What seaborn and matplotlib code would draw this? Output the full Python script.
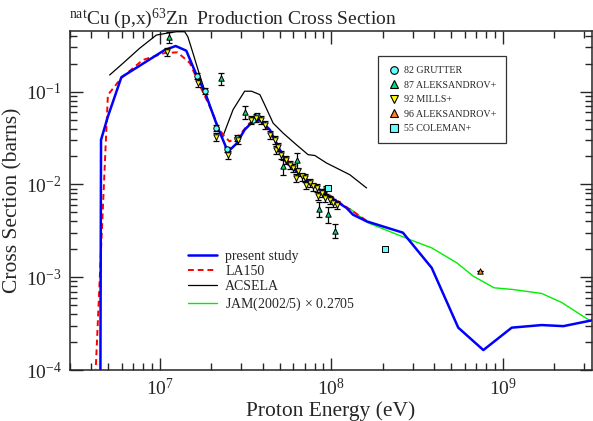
import numpy as np
import pandas as pd
import matplotlib
matplotlib.use("Agg")
import matplotlib.pyplot as plt
import seaborn as sns
from matplotlib.lines import Line2D

# ---- curves (energy in eV, cross section in barns) ----
present_E = [4.50e6, 4.55e6, 4.99e6, 5.98e6, 1.07e7, 1.24e7, 1.43e7, 1.64e7, 1.83e7,
             2.19e7, 2.50e7, 2.80e7, 3.13e7, 3.49e7, 3.84e7, 4.39e7, 5.02e7, 5.49e7,
             6.28e7, 7.19e7, 8.59e7, 1.075e8, 1.23e8, 1.34e8, 1.61e8, 2.62e8, 3.86e8,
             5.51e8, 7.72e8, 1.13e9, 1.69e9, 2.26e9, 3.37e9]
present_sig = [1e-5, 0.0302, 0.0539, 0.1429, 0.281, 0.310, 0.276, 0.151, 0.100,
               0.0404, 0.0225, 0.0274, 0.0388, 0.0476, 0.0496, 0.0388, 0.0236, 0.0171,
               0.0138, 0.01124, 0.00877, 0.00657, 0.00557, 0.00472, 0.0040, 0.00302,
               0.00126, 0.000286, 0.000164, 0.000286, 0.000305, 0.000297, 0.000345]

la150_E = [4.2e6, 4.99e6, 5.98e6, 7.96e6, 1.07e7, 1.27e7, 1.50e7, 1.71e7, 2.00e7,
           2.19e7, 2.34e7, 2.56e7, 2.93e7, 3.35e7, 3.94e7, 4.50e7, 5.22e7, 6.31e7,
           7.51e7, 9.19e7, 1.124e8, 1.375e8, 1.61e8]
la150_sig = [7.0e-5, 0.0921, 0.1404, 0.219, 0.2607, 0.265, 0.2035, 0.118, 0.0636,
             0.042, 0.0342, 0.029, 0.0342, 0.046, 0.0484, 0.0342, 0.0209, 0.0137,
             0.0107, 0.00835, 0.00636, 0.00496, 0.00405]

acsela_E = [5.11e6, 6.11e6, 7.64e6, 9.57e6, 1.094e7, 1.252e7, 1.40e7, 1.46e7, 1.565e7,
            1.71e7, 1.91e7, 2.14e7, 2.32e7, 2.68e7, 3.13e7, 3.43e7, 3.84e7, 4.10e7,
            4.59e7, 5.25e7, 6.28e7, 7.34e7, 8.03e7, 9.40e7, 1.124e8, 1.286e8, 1.61e8]
acsela_sig = [0.151, 0.202, 0.293, 0.407, 0.425, 0.442, 0.442, 0.390, 0.259,
              0.151, 0.0814, 0.0457, 0.0318, 0.064, 0.101, 0.101, 0.0928, 0.0719,
              0.0457, 0.0357, 0.0267, 0.0209, 0.0205, 0.017, 0.0144, 0.0127, 0.00915]

jam_E = [1.286e8, 1.644e8, 2.88e8, 3.86e8, 5.40e8, 6.75e8, 8.91e8, 1.15e9, 1.69e9,
         2.21e9, 3.37e9]
jam_sig = [0.00548, 0.00385, 0.00254, 0.00207, 0.00143, 0.001025, 0.000769, 0.000737,
           0.000668, 0.000534, 0.000323]

# ---- experimental data ----
grutter_E = [1.66e7, 1.85e7, 2.14e7, 2.48e7, 2.83e7, 3.50e7, 3.68e7]
grutter_sig = [0.1486, 0.101, 0.0407, 0.0238, 0.0318, 0.050, 0.0548]

alek87_E = [1.129e7, 2.29e7, 3.16e7, 5.25e7, 6.28e7, 8.47e7, 9.53e7, 1.051e8]
alek87_sig = [0.385, 0.139, 0.0605, 0.0156, 0.0182, 0.0054, 0.00478, 0.00318]
alek87_err = [0.053, 0.021, 0.010, 0.0029, 0.0035, 0.0010, 0.0009, 0.00055]

mills_E = [1.10e7, 1.67e7, 2.14e7, 2.50e7, 2.86e7, 3.43e7, 3.67e7, 3.92e7, 4.10e7,
           4.39e7, 4.69e7, 4.75e7, 4.90e7, 5.13e7, 5.49e7, 5.74e7, 6.00e7, 6.22e7,
           6.42e7, 6.72e7, 7.02e7, 7.11e7, 7.51e7, 7.85e7, 8.22e7, 8.36e7, 8.79e7,
           9.19e7, 9.31e7, 9.83e7, 1.027e8, 1.075e8]
mills_sig = [0.267, 0.124, 0.0324, 0.0208, 0.0303, 0.0497, 0.0518, 0.0497, 0.0438,
             0.0342, 0.0303, 0.0236, 0.0256, 0.0209, 0.01845, 0.0163, 0.0150, 0.0118,
             0.0138, 0.0122, 0.0117, 0.00993, 0.01035, 0.00952, 0.00915, 0.00756, 0.00808,
             0.00714, 0.00877, 0.00685, 0.0063, 0.00605]

alek96_E = [7.38e8]
alek96_sig = [0.00116]

coleman_E = [9.6e7, 2.06e8]
coleman_sig = [0.00915, 0.00203]

# ---- style ----
sns.set_style("ticks")
plt.rcParams['font.family'] = ['Liberation Serif', 'DejaVu Serif']
plt.rcParams['mathtext.fontset'] = 'custom'
plt.rcParams['mathtext.rm'] = 'Liberation Serif'
plt.rcParams['mathtext.it'] = 'Liberation Serif:italic'
plt.rcParams['axes.linewidth'] = 1.1

fig = plt.figure(figsize=(5.93, 4.21), dpi=100)
ax = fig.add_axes([70 / 593, 51 / 421, 522 / 593, 339 / 421])

# theory curves
sns.lineplot(x=present_E, y=present_sig, ax=ax, color='#0000ff', lw=1.8,
             sort=False, estimator=None, label='present study', zorder=5)
sns.lineplot(x=la150_E, y=la150_sig, ax=ax, color='#ff0000', lw=1.4,
             sort=False, estimator=None, label='LA150', zorder=4)
ax.lines[-1].set_dashes([3, 2])
sns.lineplot(x=acsela_E, y=acsela_sig, ax=ax, color='black', lw=0.9,
             sort=False, estimator=None, label='ACSELA', zorder=3)
sns.lineplot(x=jam_E, y=jam_sig, ax=ax, color='#00ee00', lw=1.0,
             sort=False, estimator=None, label='JAM(2002/5)$\\,\\times\\,$0.2705', zorder=3)

line_handles, line_labels = ax.get_legend_handles_labels()
if ax.get_legend():
    ax.get_legend().remove()

# experimental points with error bars
exp_sets = [
    ('82 GRUTTER', grutter_E, grutter_sig, [s * 0.07 for s in grutter_sig], 'o', '#66ffff'),
    ('87 ALEKSANDROV+', alek87_E, alek87_sig, alek87_err, '^', '#00dd77'),
    ('92 MILLS+', mills_E, mills_sig, [s * 0.1 for s in mills_sig], 'v', '#ffff00'),
    ('96 ALEKSANDROV+', alek96_E, alek96_sig, [0.0] * len(alek96_E), '^', '#ff7f27'),
    ('55 COLEMAN+', coleman_E, coleman_sig, [0.0] * len(coleman_E), 's', '#66ffff'),
]
exp_handles = []
for name, E, s, err, mk, col in exp_sets:
    ax.errorbar(E, s, yerr=err, fmt='none', ecolor='black', elinewidth=0.9,
                capsize=2.5, capthick=0.9, zorder=6)
    sns.scatterplot(x=E, y=s, ax=ax, marker=mk, color=col, edgecolor='black',
                    linewidth=0.7, s=15, zorder=7, legend=False)
    exp_handles.append(Line2D([], [], marker=mk, ls='none', markerfacecolor=col,
                              markeredgecolor='black', markeredgewidth=0.8,
                              markersize=5.5, label=name))

ax.set_xscale('log')
ax.set_yscale('log')
ax.set_xlim(3e6, 3.32e9)
ax.set_ylim(1e-4, 0.45)

ax.tick_params(which='both', direction='in', top=True, right=True, width=1,
               labelsize=14, pad=6)
ax.tick_params(which='major', length=9)
ax.tick_params(which='minor', length=5)

ax.set_xlabel('Proton Energy (eV)', fontsize=15.5, labelpad=1)
ax.set_ylabel('Cross Section (barns)', fontsize=15.5, labelpad=2)
ax.set_title('$^{\\rm nat}$Cu (p,x)$^{63}$Zn  Production Cross Section',
             fontsize=14, loc='left', x=-0.002, pad=4)

leg1 = ax.legend(line_handles, line_labels, loc='upper left',
                 bbox_to_anchor=(0.215, 0.37), frameon=False, fontsize=10,
                 handlelength=2.1, handletextpad=0.6, labelspacing=0.15,
                 borderaxespad=0)
ax.add_artist(leg1)
leg2 = ax.legend(handles=exp_handles, loc='upper left',
                 bbox_to_anchor=(0.58, 0.94), frameon=True, fontsize=7.2,
                 fancybox=False, edgecolor='black', handletextpad=0.4,
                 labelspacing=0.55, borderpad=1.0, handlelength=1.2)
leg2.get_frame().set_linewidth(0.9)

fig.savefig('out.png', dpi=100)
